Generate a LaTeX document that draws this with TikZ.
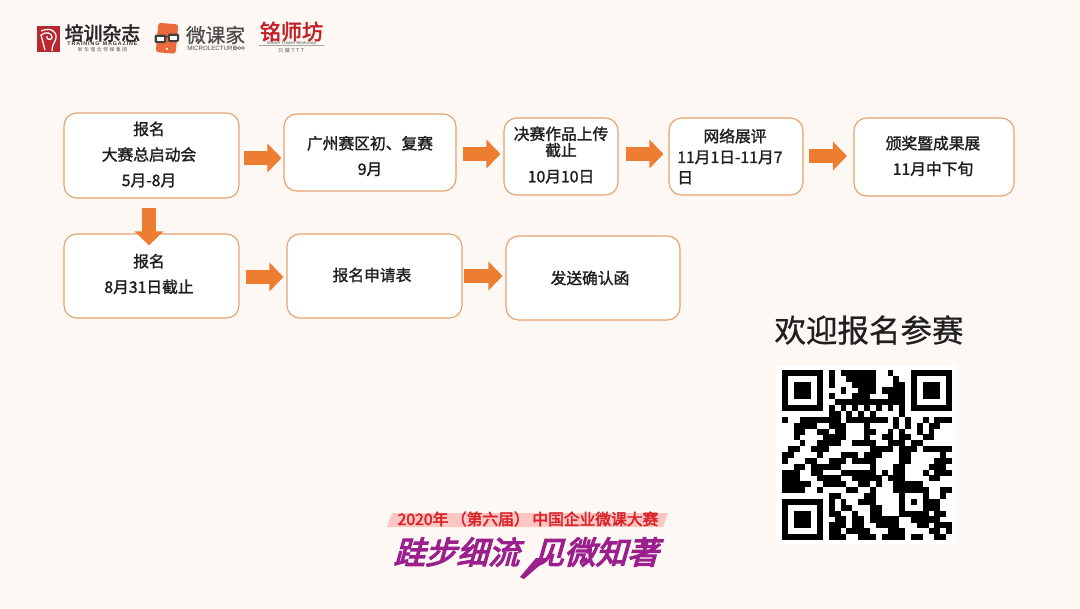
\documentclass[tikz,border=0pt]{standalone}
\usepackage{fontspec}
\setmainfont{Noto Sans CJK SC}
\newfontfamily\cjkmed[FakeBold=1.6]{Noto Sans CJK SC}
\newfontfamily\cjklight[FakeBold=0.7]{Noto Sans CJK SC}
\newfontfamily\cjkheavy[FakeBold=4,FakeSlant=0.28]{Noto Sans CJK SC}
\newfontfamily\cjkbold[FakeBold=2.6]{Noto Sans CJK SC}
\newfontfamily\latinwide{Liberation Sans}
\usetikzlibrary{positioning, arrows.meta}
\definecolor{pagebg}{HTML}{FDF8F3}
\definecolor{boxline}{HTML}{E8A06E}
\definecolor{flowcol}{HTML}{ED7D31}
\definecolor{logored}{HTML}{B8282E}
\definecolor{phonecol}{HTML}{EC6B3C}
\definecolor{slogan}{HTML}{9C1F8E}
\definecolor{titlered}{HTML}{D8232A}
\tikzset{
    rbox/.style 2 args={draw=boxline, fill=white, line width=0.8pt, rounded corners=9pt,
        inner sep=0pt, minimum width=#1*0.025cm, minimum height=#2*0.025cm},
    boxtext/.style={font=\cjkmed\fontsize{11.2}{18.2}\selectfont, align=center, text=black!88, inner sep=0pt},
    flow/.style={draw=flowcol, line width=10.3pt, -{Triangle[length=10pt,width=20pt]}},
}
\begin{document}
\begin{tikzpicture}[x=0.025cm, y=-0.025cm]
    \fill[pagebg] (0,0) rectangle (1080,608);
    \useasboundingbox (0,0) rectangle (1080,608);
    % first row
    \node[rbox={175}{85}] (start) at (151.5,155.5) {};
    \node[rbox={172}{77}] (gz) at (370,152.5) {};
    \node[rbox={114}{77}] (jue) at (561,156.5) {};
    \node[rbox={134}{77}] (net) at (736,156.5) {};
    \node[rbox={160}{78}] (award) at (934,157) {};
    % second row
    \node[rbox={175}{84}] (bao) at (151.5,276) {};
    \node[rbox={175}{84}] (form) at (374.5,276) {};
    \node[rbox={174}{84}] (send) at (593,278) {};
    % box texts
    \node[boxtext] (startt) at (149,154.5) {报名\\大赛总启动会\\5月-8月};
    \node[boxtext] (gzt) at (370,156) {广州赛区初、复赛\\9月};
    \node[boxtext, font=\cjkmed\fontsize{11.2}{11.6}\selectfont] (juet) at (561,155) {决赛作品上传\\截止\\[7pt]10月10日};
    \node[boxtext] (nett) at (735,136) {网络展评};
    \node[boxtext, anchor=west, align=left, font=\cjkmed\fontsize{11.2}{14.5}\selectfont] (netd) at (677,167.5) {11月1日-11月7\\日};
    \node[boxtext] (awardt) at (933,156) {颁奖暨成果展\\11月中下旬};
    \node[boxtext] (baot) at (149,274) {报名\\8月31日截止};
    \node[boxtext] (formt) at (372,275) {报名申请表};
    \node[boxtext] (sendt) at (590,278) {发送确认函};
    % block arrows
    \draw[flow, shorten <=2.8pt, shorten >=1.4pt] (start.east |- 0,158) -- (gz.west |- 0,158);
    \draw[flow, shorten <=4.3pt, shorten >=2.1pt] (gz.east |- 0,154) -- (jue.west |- 0,154);
    \draw[flow, shorten <=5pt, shorten >=3.5pt] (jue.east |- 0,154) -- (net.west |- 0,154);
    \draw[flow, shorten <=3.9pt, shorten >=4.6pt] (net.east |- 0,156) -- (award.west |- 0,156);
    \draw[flow, shorten <=4.5pt, shorten >=2.1pt] (bao.east |- 0,277) -- (form.west |- 0,277);
    \draw[flow, shorten <=1pt, shorten >=2.1pt] (form.east |- 0,276) -- (send.west |- 0,276);
    \draw[flow, shorten <=6.4pt, shorten >=-8.5pt] (start.south -| 149,0) -- (bao.north -| 149,0);
    % logo training magazine
    \fill[logored] (37,26) rectangle (60,52);
    \draw[white, line width=0.9pt] (41,31) .. controls (50,27) and (57,31) .. (56,38) .. controls (55,43) and (52,44) .. (52,51);
    \draw[white, line width=0.9pt] (45,50) -- (41,35) .. controls (46,31) and (53,33) .. (52,38) .. controls (50,41) and (46,39) .. (47,36);
    \node[inner sep=0pt, font=\cjkbold\fontsize{13.4}{14}\selectfont, text=black!85] (pxname) at (102.5,33) {培训杂志};
    \node[inner sep=0pt, font=\latinwide\bfseries\fontsize{3.8}{4}\selectfont, text=black!80] (pxen) at (102.5,43.5) {T\,R\,A\,I\,N\,I\,N\,G\,\, M\,A\,G\,A\,Z\,I\,N\,E};
    \node[inner sep=0pt, font=\fontsize{3.4}{4}\selectfont, text=black!65] (pxsub) at (102.5,49.5) {新\,\,华\,\,理\,\,念\,\,传\,\,媒\,\,集\,\,团};
    % logo microlecture
    \fill[phonecol, rounded corners=2pt, rotate around={-5:(167,38.5)}] (157,23.5) rectangle (177,53);
    \fill[white] (166.8,48.8) circle (1.2);
    \fill[black!75, rounded corners=1pt] (154.5,34.5) rectangle (166,43);
    \fill[black!75, rounded corners=1pt] (168,33.5) rectangle (179,42);
    \draw[black!75, line width=1pt] (165,37) -- (169,36.5);
    \fill[white] (157,36.5) rectangle (164,41);
    \fill[white] (170,35.5) rectangle (177,40);
    \node[inner sep=0pt, font=\cjklight\fontsize{14}{15}\selectfont, text=black!70] (wkname) at (215.5,35) {微课家};
    \node[inner sep=0pt, anchor=west, font=\latinwide\fontsize{4.4}{6}\selectfont, text=black!70] (wken) at (187,48) {MICROLECTURE};
    \draw[black!60, line width=0.4pt] (236,48) circle (1.5) (239.5,48) circle (1.5) (243,48) circle (1.5);
    % logo mingshi
    \node[inner sep=0pt, font=\cjkbold\fontsize{15}{16}\selectfont, text=titlered!90!black] (msname) at (291.5,31.5) {铭师坊};
    \draw[black!35, line width=0.4pt] (259,45.5) -- (324,45.5);
    \node[inner sep=0pt, font=\latinwide\fontsize{3.1}{4}\selectfont, text=black!65] (msen) at (291.5,43) {Master Trainer Workshop};
    \node[inner sep=0pt, font=\fontsize{3.6}{4}\selectfont, text=black!70] (mssub) at (291,51) {只\,\,做\,\,T\,\,T\,\,T};
    % qr code
    \node[inner sep=0pt, font=\cjklight\fontsize{22.4}{24}\selectfont, text=black!88] (welcome) at (869,330) {欢迎报名参赛};
    \fill[white] (776,365) rectangle (956,545);
    \begin{scope}[shift={(782,370)}, x=0.1465cm, y=-0.1465cm]
    \foreach \r/\runs in {
        0/{0/6,8/8,10/15,18/18,22/28},
        1/{0/0,6/6,8/8,11/15,19/19,22/22,28/28},
        2/{0/0,2/4,6/6,8/8,12/15,19/20,22/22,24/26,28/28},
        3/{0/0,2/4,6/6,10/10,13/15,17/20,22/22,24/26,28/28},
        4/{0/0,2/4,6/6,8/8,12/14,18/20,22/22,24/26,28/28},
        5/{0/0,6/6,9/20,22/22,28/28},
        6/{0/6,8/8,10/10,12/12,14/14,16/16,18/18,20/20,22/28},
        7/{8/9,11/11,13/13,15/15,20/20},
        8/{0/0,3/9,11/17,19/19,21/21,24/24,26/28},
        9/{2/5,8/10,14/14,19/19,21/21,23/23,25/26},
        10/{2/3,6/7,9/10,14/15,18/18,20/20,23/23,25/25},
        11/{2/2,7/10,14/14,17/18,20/21,24/25},
        12/{3/3,6/9,12/15,18/20,22/23},
        13/{1/2,5/7,15/18,20/22,24/28},
        14/{0/1,6/6,10/12,14/16,20/21,27/27},
        15/{0/0,4/5,8/10,12/15,20/21,26/28},
        16/{2/3,5/9,15/15,19/20,25/27},
        17/{0/2,5/6,10/15,17/17,19/20,24/24,26/28},
        18/{0/2,6/9,12/16,18/20,25/26},
        19/{0/4,7/10,13/14,16/16,19/23},
        20/{0/3,6/6,11/12,15/15,19/24,27/28},
        21/{8/9,14/15,20/20,24/24,27/27},
        22/{0/6,8/8,10/10,13/15,20/20,22/22,24/26},
        23/{0/0,6/6,8/8,10/11,15/16,20/20,24/26},
        24/{0/0,2/4,6/6,8/9,12/12,15/16,20/24,26/27},
        25/{0/0,2/4,6/6,9/10,12/13,15/19,22/26},
        26/{0/0,2/4,6/6,8/10,12/13,16/19,23/24,26/28},
        27/{0/0,6/6,8/9,11/14,18/20,25/26,28/28},
        28/{0/6,8/10,13/15,17/20,22/23,26/27}}
        \foreach \a/\b in \runs
            \fill[black] (\a,\r-0.02) rectangle (\b+1,\r+1.02);
    \end{scope}
    % slogan
    \shade[left color=red!20!pagebg, middle color=pagebg, right color=red!20!pagebg] (392,513) -- (668,513) -- (663,527) -- (387,527) -- cycle;
    \node[inner sep=0pt, font=\cjkbold\fontsize{11.2}{12}\selectfont, text=titlered] (title) at (528,519) {2020年\,（第六届）\,中国企业微课大赛};
    \node[inner sep=0pt, font=\cjkheavy\fontsize{22.4}{24}\selectfont, text=slogan] (sloganl) at (456.5,552) {跬步细流};
    \node[inner sep=0pt, font=\cjkheavy\fontsize{22.4}{24}\selectfont, text=slogan] (sloganr) at (595.5,552) {见微知著};
    \fill[slogan] (536,558) -- (548,558) -- (524,579) -- (520,577) -- cycle;
\end{tikzpicture}
\end{document}
